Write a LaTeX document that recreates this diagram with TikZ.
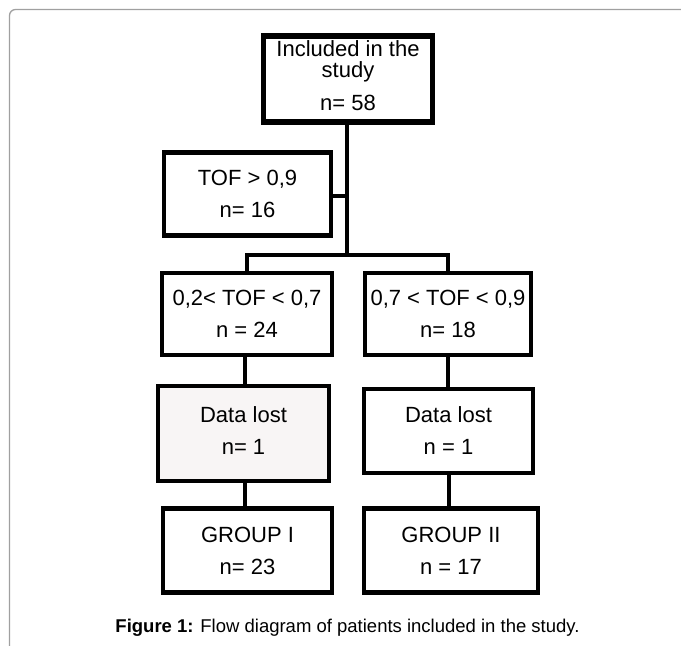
\documentclass[tikz,border=0pt]{standalone}
\usepackage{fontspec}
\setmainfont{Liberation Sans}
\definecolor{framegray}{HTML}{A0A0A0}
\definecolor{lostfill}{HTML}{F8F5F5}
\begin{document}
\begin{tikzpicture}[x=1pt,y=-1pt,
  box/.style={draw=black, line width=4.5pt, fill=white, inner sep=0pt, align=center,
    font=\fontsize{22}{32}\selectfont},
  link/.style={draw=black, line width=4pt, line join=miter},
  captxt/.style={font=\fontsize{18.5}{22}\selectfont, inner sep=0pt}]
\useasboundingbox (0,0) rectangle (681,646);
% page frame
\draw[framegray, line width=1.3pt, rounded corners=6pt] (9.5,646) -- (9.5,9.5) -- (681,9.5);
% nodes
\node[box, line width=5.5pt, minimum width=169pt, minimum height=86pt,
  font=\fontsize{22}{21}\selectfont, text depth=7pt] (top) at (348,79)
  {Included in the\\study\\[12pt]n= 58};
\node[box, minimum width=167pt, minimum height=83pt] (tof) at (247.5,194) {TOF > 0,9\\n= 16};
\node[box, minimum width=170pt, minimum height=82pt] (b1) at (247,314) {0,2< TOF < 0,7\\n = 24};
\node[box, minimum width=166pt, minimum height=82pt] (b2) at (448,314) {0,7 < TOF < 0,9\\n= 18};
\node[box, fill=lostfill, minimum width=171pt, minimum height=95pt, text depth=6pt] (d1) at (243.5,433.5) {Data lost\\n= 1};
\node[box, minimum width=169pt, minimum height=84pt] (d2) at (448.5,431) {Data lost\\n = 1};
\node[box, minimum width=169pt, minimum height=84pt] (g1) at (247.5,550.5) {GROUP I\\n= 23};
\node[box, minimum width=174pt, minimum height=84pt] (g2) at (451,550.5) {GROUP II\\n = 17};
\node[captxt] (cap) at (347.5,627.5) {\textbf{Figure 1:} Flow diagram of patients included in the study.};
% connectors
\coordinate (br) at (347,255);
\coordinate (tj) at (347,196);
\draw[link] (top.south -| br) -- (br);
\draw[link] (tof.east |- tj) -- (tj);
\draw[link] (b1.north) -- (b1.north |- br) -- (b2.north |- br) -- (b2.north);
\draw[link] (b1.south -| 245,0) -- (d1.north -| 245,0);
\draw[link] (d1.south -| 245,0) -- (g1.north -| 245,0);
\draw[link] (b2.south) -- (b2.south |- d2.north);
\draw[link] (d2.south) -- (d2.south |- g2.north);
\end{tikzpicture}
\end{document}
